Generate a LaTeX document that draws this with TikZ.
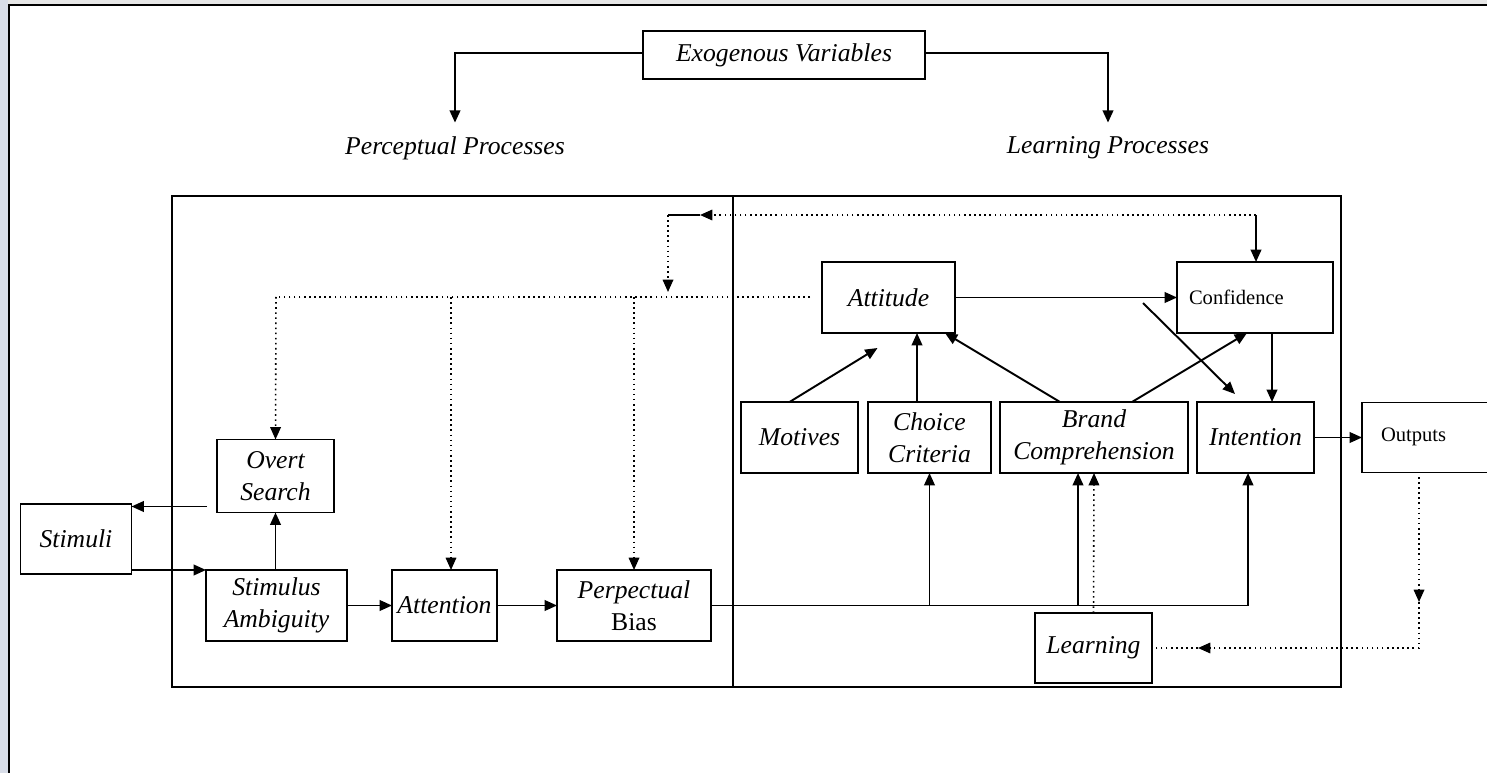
\documentclass[tikz,border=0pt]{standalone}
\usepackage{fontspec}
\setmainfont{Liberation Serif}
\usepackage{tikz}
\usetikzlibrary{arrows.meta}
\usepackage{xcolor}

\definecolor{sidebar}{RGB}{216,221,232}
\definecolor{topband}{RGB}{230,230,230}
\newcommand{\boxfont}{\fontsize{14.6}{18}\selectfont\itshape}
\newcommand{\smallup}{\fontsize{11.7}{14}\selectfont\upshape}

\tikzset{
  >={Triangle[length=7pt,width=6pt]},
  blk/.style={draw, line width=1.1pt, inner sep=0pt, outer sep=0pt, align=center, font=\boxfont},
  conn/.style={->, line width=1.1pt},
  dots/.style={dotted, line width=0.9pt},
}

\begin{document}
\begin{tikzpicture}[x=0.02cm, y=-0.02cm]
  \useasboundingbox (0,0) rectangle (1487,773);
  % page frame
  \fill[sidebar] (0,0) rectangle (8,773);
  \fill[topband] (8,0) rectangle (1487,4);
  \draw[line width=1.3pt] (9,773) -- (9,5) -- (1487,5);

  % exogenous variables
  \node[blk, minimum width=5.64cm, minimum height=0.96cm] (exo) at (784,55) {Exogenous Variables};
  \node[font=\boxfont, minimum height=1cm] (perc) at (455,148) {Perceptual Processes};
  \node[font=\boxfont, minimum height=1cm] (lrnp) at (1108,148) {Learning Processes};
  \draw[conn, line width=1.3pt] ([yshift=0.04cm]exo.west) -| (perc.north);
  \draw[conn, line width=1.3pt] ([yshift=0.04cm]exo.east) -| (lrnp.north);

  % processing frame
  \draw[line width=1.1pt] (172,196) rectangle (1341,687);
  \draw[line width=1.1pt] (733,196) -- (733,687);

  % left half
  \node[blk, minimum width=2.22cm, minimum height=1.4cm] (sti) at (76,539) {Stimuli};
  \node[blk, minimum width=2.34cm, minimum height=1.46cm] (overt) at (275.5,476) {Overt\\Search};
  \node[blk, minimum width=2.82cm, minimum height=1.42cm] (amb) at (276.5,605.5) {Stimulus\\Ambiguity};
  \node[blk, minimum width=2.1cm, minimum height=1.42cm] (attn) at (444.5,605.5) {Attention};
  \node[blk, minimum width=3.08cm, minimum height=1.42cm] (bias) at (634,605.5) {Perpectual\\{\upshape Bias}};

  % right half
  \node[blk, minimum width=2.66cm, minimum height=1.42cm] (att) at (888.5,297.5) {Attitude};
  \node[blk, font=\smallup, minimum height=1.42cm, text width=2.64cm, align=left, inner xsep=0.24cm] (conf) at (1255,297.5) {Confidence};
  \node[blk, minimum width=2.34cm, minimum height=1.42cm] (mot) at (799.5,437.5) {Motives};
  \node[blk, minimum width=2.46cm, minimum height=1.42cm] (cho) at (929.5,437.5) {Choice\\Criteria};
  \node[blk, minimum width=3.76cm, minimum height=1.42cm] (brand) at (1094,437.5) {Brand\\Comprehension};
  \node[blk, minimum width=2.34cm, minimum height=1.42cm] (int) at (1255.5,437.5) {Intention};
  \node[blk, minimum width=2.34cm, minimum height=1.4cm] (learn) at (1093.5,648) {Learning};
  \node[blk, font=\smallup, minimum height=1.4cm, text width=1.9cm, align=left, inner xsep=0.38cm] (out) at (1428.5,437.5) {\raisebox{0.1cm}{Outputs}};

  % input chain
  \draw[conn, shorten <=0.2cm] ([yshift=0.12cm]overt.south west) -- ([yshift=0.12cm]overt.south west -| sti.east);
  \draw[conn] ([yshift=0.08cm]sti.south east) -- ([yshift=0.08cm]sti.south east -| amb.west);
  \draw[conn] (overt.south |- amb.north) -- (overt.south);
  \draw[conn] (amb.east) -- (attn.west);
  \draw[conn] (attn.east) -- (bias.west);

  % perceptual bias into learning side
  \draw[conn] (bias.east) -| ([xshift=-0.15cm]int.south);
  \draw[conn] (cho.south |- bias.east) -- (cho.south);
  \draw[conn] ([xshift=-0.32cm]brand.south |- bias.east) -- ([xshift=-0.32cm]brand.south);
  \draw[dots, ->] (learn.north) -- (brand.south);

  % into attitude and confidence
  \draw[conn] ([xshift=-0.2cm]mot.north) -- ([xshift=-0.22cm, yshift=-0.3cm]att.south);
  \draw[conn] ([xshift=-0.25cm]cho.north) -- ([xshift=-0.25cm]cho.north |- att.south);
  \draw[conn] ([xshift=-0.68cm]brand.north) -- ([xshift=-0.2cm]att.south east);
  \draw[conn] ([xshift=0.76cm]brand.north) -- ([xshift=-0.16cm]conf.south);
  \draw[conn] (att.east) -- (conf.west);
  \coordinate (dg) at (1143,303);
  \draw[conn] (dg) -- ([xshift=-0.41cm, yshift=0.16cm]int.north);
  \draw[conn] ([xshift=0.34cm]conf.south) -- ([xshift=0.34cm]conf.south |- int.north);
  \draw[conn] (int.east) -- (out.west);

  % feedback from confidence
  \coordinate (fbR) at (1256,215);
  \coordinate (fbM) at (700,215);
  \coordinate (fbL) at (668,215);
  \coordinate (fbD) at (668,292);
  \draw[conn] (fbR) -- (fbR |- conf.north);
  \draw[dots, ->] (fbR) -- (fbM);
  \draw[line width=1.3pt] (fbM) -- (fbL);
  \draw[dots, ->] (fbL) -- (fbD);

  % feedback from attitude
  \coordinate (sprR) at (810,297);
  \coordinate (sprL) at (276,297);
  \coordinate (sprA) at (451,297);
  \draw[dots] (sprR) -- (sprL);
  \draw[dots, ->] (sprL) -- (overt.north);
  \draw[dots, ->] (sprA) -- (sprA |- attn.north);
  \draw[dots, ->] (bias.north |- sprR) -- (bias.north);

  % outputs back to learning
  \coordinate (otop) at (1419,477);
  \coordinate (odrop) at (1419,602);
  \coordinate (ocorner) at (1419,648);
  \coordinate (omid) at (1198,648);
  \draw[dots, ->] (otop) -- (odrop);
  \draw[dots, ->] (odrop) -- (ocorner) -- (omid);
  \draw[dots] (omid) -- (learn.east);
\end{tikzpicture}
\end{document}
